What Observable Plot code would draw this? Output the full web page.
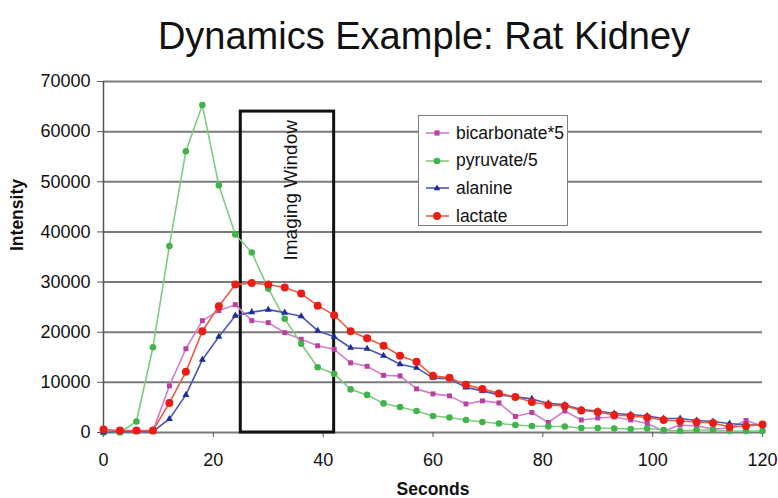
<!DOCTYPE html>
<html>
<head>
<meta charset="utf-8">
<script src="https://cdn.jsdelivr.net/npm/d3@7"></script>
<script src="https://cdn.jsdelivr.net/npm/@observablehq/plot@0.6"></script>
<style>
  body { margin: 0; background: #fff; font-family: "Liberation Sans", Arial, sans-serif; }
  #wrap { position: relative; width: 778px; height: 498px; overflow: hidden; }
  #title { position: absolute; top: 17px; left: 35px; width: 778px; text-align: center;
           font-size: 38px; line-height: 38px; color: #111; }
  #chart { position: absolute; top: 62px; left: 0; }
  #legend { position: absolute; left: 418px; top: 115px; width: 148px; height: 109px;
            background: #fff; border: 1.5px solid #808080; }
  .row { position: absolute; left: 6px; height: 22px; display: flex; align-items: center;
         font-size: 17.5px; color: #111; }
  .row svg { margin-right: 5px; }
</style>
</head>
<body>
<div id="wrap">
  <div id="title">Dynamics Example: Rat Kidney</div>
  <div id="chart"></div>
  <div id="legend"></div>
</div>
<script>
// Sampling times (s)
const seconds = [0,3,6,9,12,15,18,21,24,27,30,33,36,39,42,45,48,51,54,57,60,63,66,69,72,75,78,81,84,87,90,93,96,99,102,105,108,111,114,117,120];

// Signal intensities per metabolite
const bicarbonate5 = [300,300,300,300,9300,16700,22300,24300,25500,22300,21900,19900,18600,17300,16600,13900,13200,11400,11300,8700,7700,7300,5700,6300,5900,3200,4000,2000,4300,2500,2900,3100,2500,1800,300,1500,1300,700,900,2400,1300];
const pyruvate5 = [0,0,2200,17000,37200,56100,65300,49300,39500,35900,28700,22700,17700,13000,11700,8600,7500,5800,5100,4300,3300,3000,2500,2100,1800,1500,1300,1200,1200,900,900,800,700,800,500,300,500,500,300,300,300];
const alanine = [0,200,200,200,2700,7500,14500,19100,23300,24000,24500,23900,23200,20300,19100,16900,16700,15300,13600,12900,10900,10700,9000,8300,7500,7100,6700,5800,5500,4600,4300,3800,3600,3300,2800,2800,2400,2200,1800,1500,1500];
const lactate = [600,400,400,400,5900,12100,20200,25200,29500,29800,29500,28900,27700,25300,23400,20200,18800,17300,15300,14100,11300,10900,9500,8700,7800,7100,6100,5500,5300,4400,4100,3500,3300,3000,2500,2300,2100,1900,1100,1300,1600];

const seriesNames = ["bicarbonate*5", "pyruvate/5", "alanine", "lactate"];
const seriesValues = [bicarbonate5, pyruvate5, alanine, lactate];

// Axis ticks
const yTicks = [0,10000,20000,30000,40000,50000,60000,70000];
const xTicks = [0,20,40,60,80,100,120];

// Acquisition window annotation (seconds, intensity)
const windowStart = 25, windowEnd = 42, windowTop = 64000;
const windowLabel = "Imaging Window";

// Series styling
const styles = [
  {line: "#cf7fcc", fill: "#b8409f", symbol: "square",   r: 2.8},
  {line: "#7fcb7f", fill: "#3fb44a", symbol: "circle",   r: 3.3},
  {line: "#4a57b5", fill: "#1d2c98", symbol: "triangle", r: 2.6},
  {line: "#ee5a42", fill: "#ea1d16", symbol: "circle",   r: 4.0}
];

const marks = [
  Plot.gridY(yTicks, {stroke: "#7a7a7a", strokeOpacity: 1, strokeWidth: 2}),
  Plot.ruleX([0], {stroke: "#555", strokeWidth: 1.5}),
  Plot.axisY(yTicks, {tickSize: 6, tickPadding: 7, fontSize: 18, tickFormat: d3.format("d"), label: null, stroke: "#555"}),
  Plot.axisX(xTicks, {tickSize: 5, tickPadding: 16, fontSize: 18, tickFormat: d3.format("d"), label: null, stroke: "#555"}),
  Plot.rect([{x1: windowStart, x2: windowEnd, y1: 0, y2: windowTop}],
    {x1: "x1", x2: "x2", y1: "y1", y2: "y2", fill: "none", stroke: "#111", strokeWidth: 3}),
  Plot.text([windowLabel], {x: (windowStart + windowEnd) / 2 + 0.6, y: 48300, rotate: -90, fontSize: 19, fill: "#111"}),
  Plot.text(["Intensity"], {frameAnchor: "left", dx: -86, dy: -6, rotate: -90, fontSize: 17.5, fontWeight: "bold", fill: "#111"}),
  Plot.text(["Seconds"], {frameAnchor: "bottom", dy: 62, fontSize: 17.5, fontWeight: "bold", fill: "#111"})
];

seriesValues.forEach((vals, i) => {
  const s = styles[i];
  const data = seconds.map((t, k) => ({t, v: vals[k]}));
  marks.push(Plot.line(data, {x: "t", y: "v", stroke: s.line, strokeWidth: 1.6}));
  marks.push(Plot.dot(data, {x: "t", y: "v", fill: s.fill, stroke: "none", symbol: s.symbol, r: s.r}));
});

const chart = Plot.plot({
  width: 778,
  height: 436,
  marginTop: 19,
  marginBottom: 66,
  marginLeft: 103,
  marginRight: 16,
  style: {fontFamily: "Liberation Sans, Arial, sans-serif", color: "#111", background: "transparent", overflow: "visible"},
  x: {domain: [0, 120]},
  y: {domain: [0, 70000]},
  marks
});
document.getElementById("chart").append(chart);

// Legend box
const legend = document.getElementById("legend");
const symbolPath = {
  square: "M-2.6,-2.6h5.2v5.2h-5.2z",
  circle: null,
  triangle: "M0,-3.6L3.3,2.2L-3.3,2.2z"
};
seriesNames.forEach((name, i) => {
  const s = styles[i];
  const row = document.createElement("div");
  row.className = "row";
  row.style.top = (6 + i * 27.7) + "px";
  const marker = s.symbol === "circle"
    ? `<circle cx="12" cy="7" r="${s.r}" fill="${s.fill}"/>`
    : `<path transform="translate(12,7)" d="${symbolPath[s.symbol]}" fill="${s.fill}"/>`;
  row.innerHTML = `<svg width="26" height="14"><line x1="1" x2="24" y1="7" y2="7" stroke="${s.line}" stroke-width="1.6"/>${marker}</svg><span>${name}</span>`;
  legend.append(row);
});
</script>
</body>
</html>
